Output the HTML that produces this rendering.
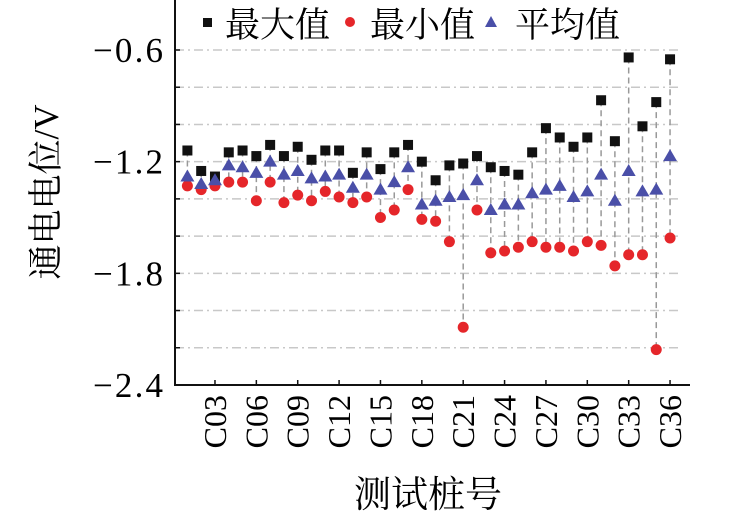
<!DOCTYPE html>
<html><head><meta charset="utf-8"><style>
html,body{margin:0;padding:0;background:#fff;width:739px;height:517px;overflow:hidden}
svg text{font-family:"Liberation Serif","Noto Serif CJK SC",serif}
</style></head><body>
<svg id="chart" width="739" height="517" xmlns="http://www.w3.org/2000/svg">
<g id="grid"></g>
<g id="conn"></g>
<g id="axes"></g>
<g id="marks"></g>
<g>
  <rect x="203" y="18" width="9" height="9" fill="#111"/>
  <text x="225" y="37" font-size="35">最大值</text>
  <circle cx="350" cy="22" r="5" fill="#e5262a"/>
  <text x="370" y="37" font-size="35">最小值</text>
  <polygon points="491,16 497,27 485,27" fill="#4a4fa8"/>
  <text x="515" y="37" font-size="35">平均值</text>
</g>
<text transform="translate(58,192) rotate(-90)" text-anchor="middle" font-size="35">通电电位/V</text>
<text x="428" y="507" text-anchor="middle" font-size="37">测试桩号</text>
</svg>
<script>
const categories = Array.from({length:36},(_,i)=>'C'+String(i+1).padStart(2,'0'));
const maxValues = [-1.14,-1.25,-1.28,-1.15,-1.14,-1.17,-1.11,-1.17,-1.12,-1.19,-1.14,-1.14,-1.26,-1.15,-1.24,-1.15,-1.11,-1.20,-1.30,-1.22,-1.21,-1.17,-1.23,-1.25,-1.27,-1.15,-1.02,-1.07,-1.12,-1.07,-0.87,-1.09,-0.64,-1.01,-0.88,-0.65];
const minValues = [-1.33,-1.35,-1.33,-1.31,-1.31,-1.41,-1.31,-1.42,-1.38,-1.41,-1.36,-1.39,-1.42,-1.39,-1.50,-1.46,-1.35,-1.51,-1.52,-1.63,-2.09,-1.46,-1.69,-1.68,-1.66,-1.63,-1.66,-1.66,-1.68,-1.63,-1.65,-1.76,-1.70,-1.70,-2.21,-1.61];
const avgValues = [-1.28,-1.32,-1.30,-1.22,-1.23,-1.26,-1.20,-1.27,-1.25,-1.29,-1.28,-1.27,-1.34,-1.27,-1.35,-1.31,-1.23,-1.43,-1.41,-1.39,-1.38,-1.30,-1.46,-1.43,-1.43,-1.37,-1.35,-1.33,-1.39,-1.36,-1.27,-1.41,-1.25,-1.36,-1.35,-1.17];
const yTicks = [-0.6,-1.2,-1.8,-2.4];
const yTickLabels = ['−0.6','−1.2','−1.8','−2.4'];
const yGrid = [-0.6,-0.8,-1.0,-1.2,-1.4,-1.6,-1.8,-2.0,-2.2];

const NS='http://www.w3.org/2000/svg';
const X0=175, X1=678, Y0=385;
function xs(i){return 187.4+i*13.79;}
function ys(v){return 50+(-0.6-v)*186.1;}
function mk(tag,attrs,parent){const e=document.createElementNS(NS,tag);for(const k in attrs)e.setAttribute(k,attrs[k]);parent.appendChild(e);return e;}
const grid=document.getElementById('grid'),conn=document.getElementById('conn'),axes=document.getElementById('axes'),marks=document.getElementById('marks');

yGrid.forEach(v=>{
  const l=mk('line',{x1:X0,x2:X1,y1:ys(v),y2:ys(v),stroke:'#c8c8c8','stroke-width':1.5,'stroke-dasharray':'9 4 2 4'},grid);
  
  
});
categories.forEach((c,i)=>{
  const l=mk('line',{x1:xs(i),x2:xs(i),y1:ys(maxValues[i]),y2:ys(minValues[i]),stroke:'#999','stroke-width':1.5,'stroke-dasharray':'6 4'},conn);
  
  
});
let a=mk('line',{x1:X0,x2:X0,y1:0,y2:Y0+1,stroke:'#111','stroke-width':2},axes);


a=mk('line',{x1:X0-1,x2:690,y1:Y0,y2:Y0,stroke:'#111','stroke-width':2},axes);


yGrid.concat([-2.4]).forEach(v=>{
  const t=mk('line',{x1:X0,x2:X0+5,y1:ys(v),y2:ys(v),stroke:'#111','stroke-width':1.5},axes);
  
  
});
yTicks.forEach((v,i)=>{
  const t=mk('text',{x:163,y:ys(v)+12,'text-anchor':'end','font-size':35,'textLength':70,'lengthAdjust':'spacing'},axes);
  t.textContent=yTickLabels[i];
  
  
});
categories.forEach((c,i)=>{
  if((i+1)%3!==0)return;
  const t=mk('line',{x1:xs(i),x2:xs(i),y1:Y0,y2:Y0-5,stroke:'#111','stroke-width':1.5},axes);
  
  
  const lb=mk('text',{transform:`translate(${xs(i)+11},${395}) rotate(-90)`,'text-anchor':'end','font-size':32},axes);
  lb.textContent=c;
  
  
});
categories.forEach((c,i)=>{
  const x=xs(i);
  const s=mk('rect',{x:x-5,y:ys(maxValues[i])-5,width:10,height:10,fill:'#111'},marks);
  
  
  const ci=mk('circle',{cx:x,cy:ys(minValues[i]),r:5.5,fill:'#e5262a'},marks);
  
  
  const y=ys(avgValues[i]);
  const tr=mk('polygon',{points:`${x},${y-7} ${x+7},${y+5} ${x-7},${y+5}`,fill:'#4a4fa8'},marks);
  
  
});
</script>
</body></html>
